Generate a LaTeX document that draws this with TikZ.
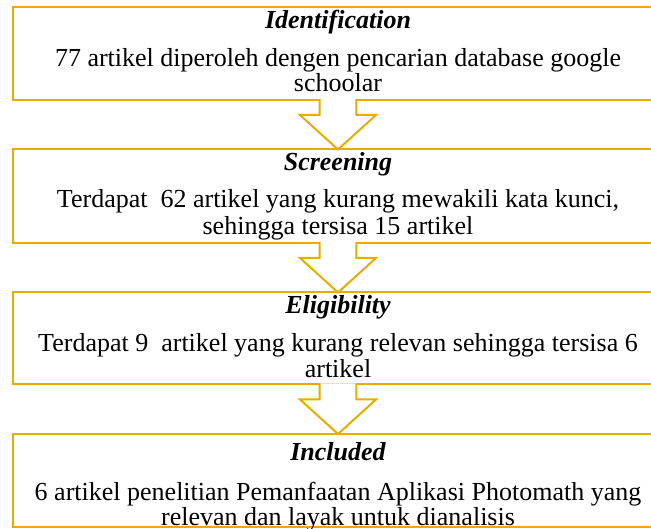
\documentclass[tikz,border=0pt]{standalone}
\usepackage{fontspec}
\setmainfont{Liberation Serif}
\usetikzlibrary{calc}
\definecolor{gold}{RGB}{232,172,0}
\newcommand\flowarrow[2]{%
  \fill[white] ($(#1.south)+(-18.3,-1.2)$) -- ($(#1.south)+(-18.3,15)$) -- ($(#1.south)+(-38,15)$) -- (#2.north) -- ($(#1.south)+(38,15)$) -- ($(#1.south)+(18.3,15)$) -- ($(#1.south)+(18.3,-1.2)$) -- cycle;
  \draw[flow] ($(#1.south)+(-18.3,-1)$) -- ($(#1.south)+(-18.3,15)$) -- ($(#1.south)+(-38,15)$) -- (#2.north) -- ($(#1.south)+(38,15)$) -- ($(#1.south)+(18.3,15)$) -- ($(#1.south)+(18.3,-1)$);}
\begin{document}
\begin{tikzpicture}[x=1pt,y=-1pt,
  stagebox/.style={draw=gold,line width=2pt,minimum width=651pt,inner sep=0pt,outer sep=0pt,anchor=north west},
  ttl/.style={anchor=base,inner sep=0pt,font=\fontsize{26}{27}\selectfont\bfseries\itshape},
  txt/.style={anchor=base,inner sep=0pt,font=\fontsize{26}{27}\selectfont},
  flow/.style={draw=gold,line width=2pt,line join=miter}]
\useasboundingbox (0,0) rectangle (651,529);
\clip (0,0) rectangle (651,529);
\node[stagebox,minimum height=92.5pt] (b1) at (12.5,7.5) {};
\node[stagebox,minimum height=93.5pt] (b2) at (12.5,149.5) {};
\node[stagebox,minimum height=92pt] (b3) at (12.5,292.5) {};
\node[stagebox,minimum height=93pt] (b4) at (12.5,434) {};
\flowarrow{b1}{b2}
\flowarrow{b2}{b3}
\flowarrow{b3}{b4}
\node[ttl] (t1) at (338,28.3) {Identification};
\node[txt] (l1a) at (338,66.7) {77 artikel diperoleh dengen pencarian database google};
\node[txt] (l1b) at (338,91.7) {schoolar};
\node[ttl] (t2) at (338,171) {Screening};
\node[txt] (l2a) at (338,208) {Terdapat\ \ 62 artikel yang kurang mewakili kata kunci,};
\node[txt] (l2b) at (338,235) {sehingga tersisa 15 artikel};
\node[ttl] (t3) at (338,314) {Eligibility};
\node[txt] (l3a) at (338,351.3) {Terdapat 9\ \ artikel yang kurang relevan sehingga tersisa 6};
\node[txt] (l3b) at (338,378) {artikel};
\node[ttl] (t4) at (338,460) {Included};
\node[txt] (l4a) at (338,500) {6 artikel penelitian Pemanfaatan Aplikasi Photomath yang};
\node[txt] (l4b) at (338,525.7) {relevan dan layak untuk dianalisis};
\end{tikzpicture}
\end{document}
